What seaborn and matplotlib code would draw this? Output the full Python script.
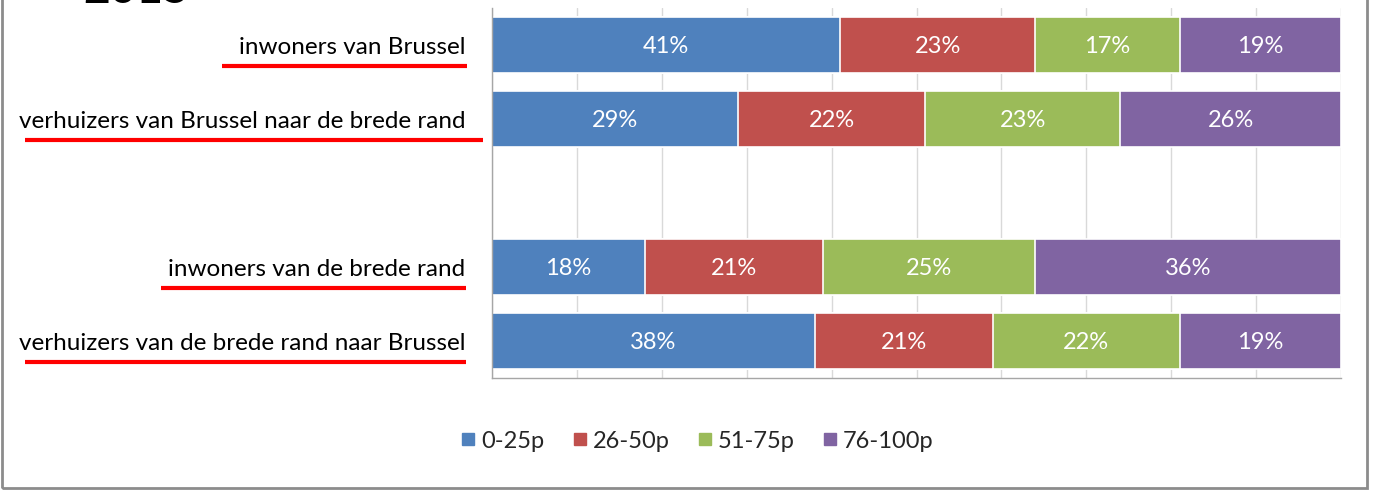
import matplotlib
matplotlib.use("Agg")
import matplotlib.pyplot as plt
import seaborn as sns
import pandas as pd
import numpy as np
from matplotlib.lines import Line2D
from matplotlib.patches import Rectangle

# ---- data ----
categories = [
    "inwoners van Brussel",
    "verhuizers van Brussel naar de brede rand",
    "inwoners van de brede rand",
    "verhuizers van de brede rand naar Brussel",
]
order = [categories[0], categories[1], " ", categories[2], categories[3]]
series = ["0-25p", "26-50p", "51-75p", "76-100p"]
v_0_25 = [41, 29, 18, 38]
v_26_50 = [23, 22, 21, 21]
v_51_75 = [17, 23, 25, 22]
v_76_100 = [19, 26, 36, 19]
colors = ["#4F81BD", "#C0504D", "#9BBB59", "#8064A2"]
title_text = "2015"

values = np.array([v_0_25, v_26_50, v_51_75, v_76_100], dtype=float)
cum = np.cumsum(values, axis=0)

sns.set_style("white")
font = ["Lato", "DejaVu Sans"]
plt.rcParams["font.family"] = font

fig = plt.figure(figsize=(13.73, 4.90), dpi=100)
ax = fig.add_axes([492/1373, 1 - 378/490, (1341-492)/1373, 370/490])

# stacked bars: draw cumulative totals from the largest down
for i in range(len(series) - 1, -1, -1):
    df = pd.DataFrame({"cat": categories, "val": cum[i]})
    sns.barplot(data=df, x="val", y="cat", order=order, color=colors[i],
                width=0.77, orient="h", saturation=1, ax=ax,
                edgecolor="white", linewidth=1.2)

# value labels
for j, cat in enumerate(categories):
    ypos = order.index(cat)
    for i in range(len(series)):
        mid = cum[i][j] - values[i][j] / 2
        ax.text(mid, ypos + 0.02, f"{int(values[i][j])}%", ha="center", va="center",
                color="white", fontsize=17)

ax.set_xlim(0, 100)
ax.set_xticks(np.arange(0, 101, 10))
ax.set_xticklabels([])
ax.tick_params(axis="x", direction="out", length=5, color="#BFBFBF", width=1)
ax.tick_params(axis="y", length=0, pad=19, labelsize=17.5)
ax.xaxis.grid(True, color="#D9D9D9", linewidth=1)
ax.set_axisbelow(True)
ax.set_xlabel("")
ax.set_ylabel("")
for s in ["top", "right"]:
    ax.spines[s].set_visible(False)
for s in ["left", "bottom"]:
    ax.spines[s].set_color("#A6A6A6")
    ax.spines[s].set_linewidth(1)
for t in ax.get_yticklabels():
    t.set_color("black")

# legend
handles = [Line2D([], [], marker="s", linestyle="", markersize=9,
                  markerfacecolor=c, markeredgecolor=c) for c in colors]
fig.legend(handles, series, loc="center", bbox_to_anchor=(0.507, 1 - 441/490),
           ncol=4, frameon=False, fontsize=17, handletextpad=0.15,
           columnspacing=1.1, handlelength=0.8)

# title (cut off at top)
fig.text(83/1373, 1 - 3/490, title_text, fontsize=33, fontweight="bold",
         ha="left", va="baseline", color="black",
         family=["Lato", "DejaVu Sans"])

# outer frame
fig.patches.append(Rectangle((2/1373, 2/490), 1365/1373, 1.0, transform=fig.transFigure,
                             fill=False, edgecolor="#8C8C8C", linewidth=2))

# red underlines under category labels
fig.canvas.draw()
renderer = fig.canvas.get_renderer()
start_adj = [-17, 6, -7, 6]
end_adj = [1, 17, 0, 0]
labels = [t for t in ax.get_yticklabels() if t.get_text().strip()]
for k, t in enumerate(labels):
    bb = t.get_window_extent(renderer)
    x0 = (bb.x0 + start_adj[k]) / fig.bbox.width
    x1 = (bb.x1 + end_adj[k]) / fig.bbox.width
    y = (bb.y0 - 8) / fig.bbox.height
    fig.add_artist(Line2D([x0, x1], [y, y], transform=fig.transFigure,
                          color="#FF0000", linewidth=3, solid_capstyle="butt"))

fig.savefig("out.png", dpi=100)
